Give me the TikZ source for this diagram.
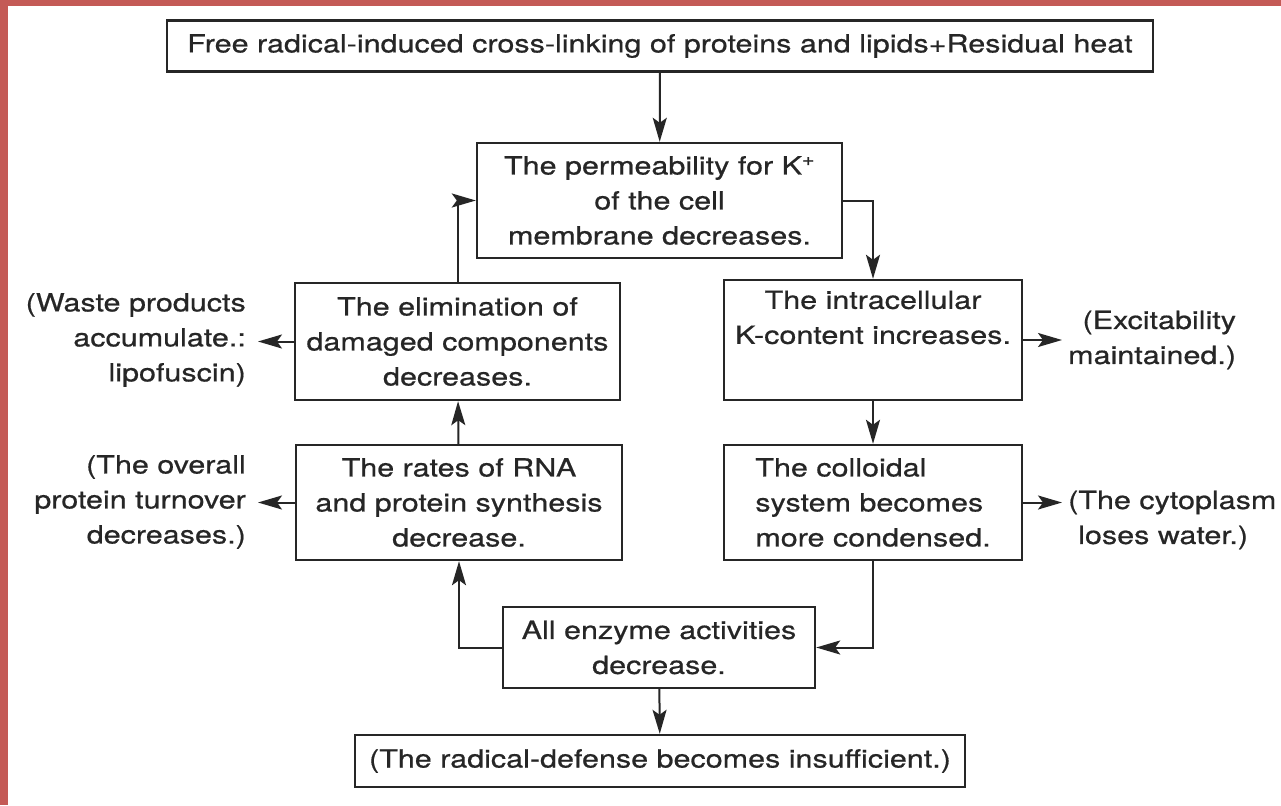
\documentclass[tikz,border=0pt]{standalone}
\usepackage{fontspec}
\setmainfont{TeX Gyre Heros}[FakeStretch=1.22,FakeBold=0.6]
\usetikzlibrary{arrows.meta,positioning}
\definecolor{ink}{RGB}{38,38,38}
\definecolor{frame}{RGB}{196,90,86}
\tikzset{%
	process/.style = {draw=ink, line width=2.4pt, rectangle, align=center, inner sep=0pt},
	noteleft/.style  = {inner ysep=0pt, inner xsep=12pt, align=right, anchor=east},
	noteright/.style = {inner ysep=0pt, inner xsep=6pt, anchor=west},
	arrow/.style   = {draw=ink, line width=2pt, -{Stealth[length=24pt,width=14pt,inset=5pt]}},
}

\begin{document}
\begin{tikzpicture}[x=1pt,y=-1pt,font=\fontsize{25}{35}\selectfont,text=ink]
		\useasboundingbox (0,0) rectangle (1281,805);
		\fill[white] (0,0) rectangle (1281,805);
		\fill[frame] (0,0) rectangle (8,805);
		\fill[frame] (0,0) rectangle (1281,6);
		
		% boxes
		\node[process, minimum width=986pt, minimum height=51pt] (heat) at (660,46) {Free radical-induced cross-linking of proteins and lipids+Residual heat};
		\node[process, minimum width=365pt, minimum height=115pt] (perm) at (659.5,200.5) {The permeability for K\textsuperscript{+}\\of the cell\\membrane decreases.};
		\node[process, minimum width=325pt, minimum height=117pt] (elim) at (457.5,341.5) {The elimination of\\damaged components\\decreases.};
		\node[process, minimum width=298pt, minimum height=120pt] (intra) at (873,340) {The intracellular\\K-content increases.\\\strut};
		\node[process, minimum width=326pt, minimum height=115pt] (rates) at (459,502.5) {The rates of RNA\\and protein synthesis\\decrease.};
		\node[process, minimum width=298pt, minimum height=115pt, align=left] (coll) at (873,502.5) {The colloidal\\system becomes\\more condensed.};
		\node[process, minimum width=312pt, minimum height=81pt] (enz) at (659,647.5) {All enzyme activities\\decrease.};
		\node[process, minimum width=610pt, minimum height=52pt] (defense) at (660,761) {(The radical-defense becomes insufficient.)};
		
		% side notes
		\node[noteleft] (waste) at (258,340) {(Waste products\\accumulate.:\\lipofuscin)};
		\node[noteleft] (turnover) at (258,502) {(The overall\\protein turnover\\decreases.)};
		\node[noteright, align=right] (excit) at (1062,340) {(Excitability\\maintained.)};
		\node[noteright, align=left] (cyto) at (1062,520) {(The cytoplasm\\\hspace*{10pt}loses water.)};
		
		% connectors
		\draw[arrow] (heat) -- (perm);
		\draw[arrow] (perm.east) -| (intra.north);
		\draw[arrow] (elim.north) |- (perm.west);
		\draw[arrow] (intra) -- (coll);
		\draw[arrow] (rates) -- (elim);
		\draw[arrow] (coll.south) |- (enz.east);
		\draw[arrow] (enz.west) -| (rates.south);
		\draw[arrow] (enz) -- (defense);
		\draw[arrow] (elim.west) -- (elim.west -| waste.east);
		\draw[arrow] (rates.west) -- (rates.west -| turnover.east);
		\draw[arrow] (intra.east) -- (intra.east -| excit.west);
		\draw[arrow] (coll.east) -- (coll.east -| cyto.west);
		
\end{tikzpicture}
\end{document}
